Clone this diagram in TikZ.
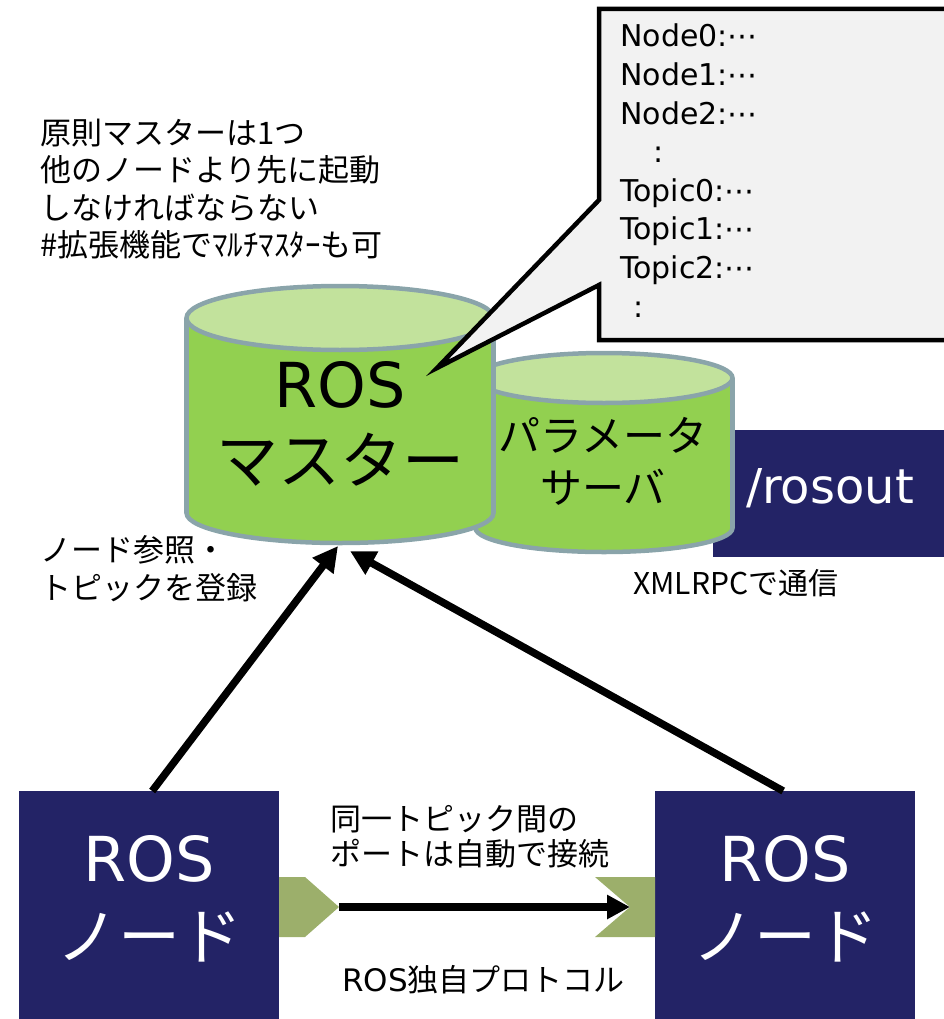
\documentclass[tikz,border=0pt]{standalone}
\usepackage{fontspec}
\newfontfamily\jp{Noto Sans CJK JP}
\newfontfamily\lat{DejaVu Sans}
\usetikzlibrary{arrows.meta}
\definecolor{navy}{HTML}{232366}
\definecolor{cylgreen}{HTML}{92D050}
\definecolor{cyltop}{HTML}{C2E29C}
\definecolor{cylline}{HTML}{8AA4AA}
\definecolor{portgreen}{HTML}{9CAF6B}
\definecolor{calloutfill}{HTML}{F2F2F2}
\newcommand\myfs[2]{\fontsize{#1pt}{#2pt}\selectfont}
\begin{document}
\begin{tikzpicture}[x=1pt,y=-1pt,
  cylbody/.style={fill=cylgreen},
  cylside/.style={draw=cylline, line width=4.5pt},
  cylcap/.style={fill=cyltop, draw=cylline, line width=4.5pt},
  cylbottom/.style={fill=cylgreen, draw=cylline, line width=4.5pt},
  navybox/.style={fill=navy, draw=none, inner sep=0pt},
  whitetext/.style={text=white, align=center, inner sep=0pt},
  blacktext/.style={text=black, align=left, inner sep=0pt},
  portshape/.style={fill=portgreen},
  bigarrow/.style={line width=7.5pt, -{Triangle[length=25pt,width=25pt]}},
  harrow/.style={line width=7.5pt, -{Triangle[length=23pt,width=23pt]}},
  callout/.style={fill=calloutfill, draw=black, line width=4.5pt, line join=miter}
]
\useasboundingbox (0,0) rectangle (944,1019);

% /rosout
\node[navybox, minimum width=240pt, minimum height=127pt, anchor=north west] (rosout) at (713,430) {};
\node[whitetext, font=\lat\myfs{48}{56}] (rosouttext) at (830,488) {/rosout};

% parameter server cylinder
\path[cylbottom] (604,528) ellipse [x radius=128.5, y radius=24];
\fill[cylbody] (475.5,378) rectangle (732.5,528);
\draw[cylside] (475.5,378) -- (475.5,528) (732.5,378) -- (732.5,528);
\path[cylcap] (604,378) ellipse [x radius=128.5, y radius=25];
\node[blacktext, align=center, font=\jp\myfs{42}{52}] (param) at (603,461) {パラメータ\\サーバ};

% master cylinder
\path[cylbottom] (340,513) ellipse [x radius=153.5, y radius=30];
\fill[cylbody] (186.5,318) rectangle (493.5,513);
\draw[cylside] (186.5,318) -- (186.5,513) (493.5,318) -- (493.5,513);
\path[cylcap] (340,318) ellipse [x radius=153.5, y radius=32];
\node[blacktext, align=center, font=\myfs{62}{76}] (master) at (340,424) {{\lat ROS}\\{\jp マスター}};
\coordinate (tipL) at (338,546);
\coordinate (tipR) at (350,551);

% callout
\draw[callout] (599,9) -- (960,9) -- (960,340) -- (599,340) -- (599,285) -- (437,368) -- (599,200) -- cycle;
\node[blacktext, anchor=north west, font=\lat\myfs{30}{38.6}] (list) at (620,24)
 {Node0:⋯\\Node1:⋯\\Node2:⋯\\\hspace*{33pt}:\\Topic0:⋯\\Topic1:⋯\\Topic2:⋯\\\hspace*{13pt}:};

% notes
\node[blacktext, anchor=west, font=\jp\myfs{31}{37.5}] (note) at (40,189)
 {原則マスターは1つ\\他のノードより先に起動\\しなければならない\\\#拡張機能でﾏﾙﾁﾏｽﾀｰも可};
\node[blacktext, anchor=west, font=\jp\myfs{31}{38}] (reg) at (40,569)
 {ノード参照・\\トピックを登録};
\node[blacktext, anchor=west, font=\jp\myfs{30}{36}] (xmlrpc) at (633,583) {XMLRPCで通信};
\node[blacktext, anchor=west, font=\jp\myfs{31}{35}] (auto) at (330,837)
 {同一トピック間の\\ポートは自動で接続};
\node[blacktext, anchor=west, font=\myfs{31}{35}] (proto) at (342,980) {{\lat ROS}{\jp 独自プロトコル}};

% ROS nodes
\node[navybox, minimum width=260pt, minimum height=230pt, anchor=north west] (nodeL) at (19,791) {};
\node[whitetext, font=\myfs{62}{78}] (nodeLtext) at (149,899) {{\lat ROS}\\{\jp ノード}};
\node[navybox, minimum width=260pt, minimum height=230pt, anchor=north west] (nodeR) at (655,791) {};
\node[whitetext, font=\myfs{62}{78}] (nodeRtext) at (785,899) {{\lat ROS}\\{\jp ノード}};

% ports
\fill[portshape] (279,877) -- (305,877) -- (339,907) -- (305,937) -- (279,937) -- cycle;
\fill[portshape] (595,877) -- (655,877) -- (655,937) -- (595,937) -- (630,907) -- cycle;
\coordinate (portL) at (339,907);
\coordinate (portR) at (630,907);

% connectors
\draw[harrow] (portL) -- (portR);
\draw[bigarrow] (nodeL.north) ++(3,0) coordinate (startL) -- (tipL);
\draw[bigarrow] (nodeR.north) ++(-2,0) coordinate (startR) -- (tipR);
\end{tikzpicture}
\end{document}
